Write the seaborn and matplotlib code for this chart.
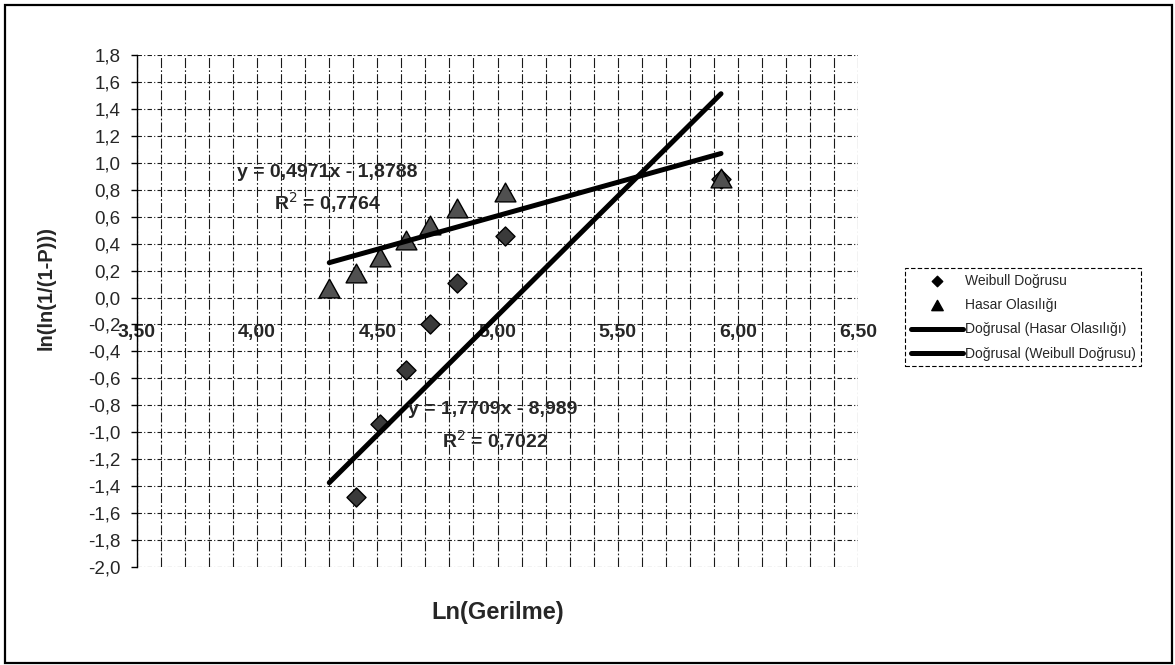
import numpy as np
import pandas as pd
import matplotlib
matplotlib.use("Agg")
import matplotlib.pyplot as plt
import seaborn as sns
from matplotlib.patches import Rectangle
from matplotlib.ticker import FuncFormatter, MultipleLocator, FixedLocator
from matplotlib.path import Path

# ---------------- data ----------------
hasar_x = [4.30, 4.41, 4.51, 4.62, 4.72, 4.83, 5.03, 5.93]
hasar_y = [0.07, 0.185, 0.30, 0.43, 0.54, 0.665, 0.78, 0.89]
# first Weibull point lies below the axis minimum (-2.0), hidden as in the reference
weibull_x = [4.30, 4.41, 4.51, 4.62, 4.72, 4.83, 5.03, 5.93]
weibull_y = [-2.28, -1.48, -0.94, -0.54, -0.20, 0.11, 0.46, 0.88]
hasar_slope, hasar_intercept, hasar_r2 = 0.4971, -1.8788, 0.7764
weibull_slope, weibull_intercept, weibull_r2 = 1.7709, -8.989, 0.7022
x_ticks = [3.5, 4.0, 4.5, 5.0, 5.5, 6.0, 6.5]
y_ticks = [-2.0, -1.8, -1.6, -1.4, -1.2, -1.0, -0.8, -0.6, -0.4, -0.2,
           0.0, 0.2, 0.4, 0.6, 0.8, 1.0, 1.2, 1.4, 1.6, 1.8]
series_names = ["Weibull Doğrusu", "Hasar Olasılığı",
                "Doğrusal (Hasar Olasılığı)", "Doğrusal (Weibull Doğrusu)"]

# ---------------- figure ----------------
sns.set_theme(style="white")
plt.rcParams["font.family"] = ["Liberation Sans", "DejaVu Sans"]

W, H = 1175, 665
fig = plt.figure(figsize=(W / 100, H / 100), dpi=100)
ax = fig.add_axes([137 / W, 1 - 567 / H, (858 - 137) / W, (567 - 55) / H])

# trend lines (Excel linear trendlines, drawn over the data x-range)
hx = np.array([min(hasar_x), max(hasar_x)])
wx = np.array([min(weibull_x), max(weibull_x)])
hasar_fit = pd.DataFrame({"x": hx, "y": hasar_slope * hx + hasar_intercept})
weibull_fit = pd.DataFrame({"x": wx, "y": weibull_slope * wx + weibull_intercept})

tri = Path([(-1, -0.9), (1, -0.9), (0, 0.9), (-1, -0.9)], closed=True)

sns.scatterplot(x=weibull_x, y=weibull_y, ax=ax, marker="D", s=94,
                color="#3a3a3a", edgecolor="black", linewidth=1.0,
                label=series_names[0], zorder=4)
sns.scatterplot(x=hasar_x, y=hasar_y, ax=ax, marker=tri, s=225,
                color="#505050", edgecolor="black", linewidth=1.0,
                label=series_names[1], zorder=5)
sns.lineplot(data=hasar_fit, x="x", y="y", ax=ax, color="black", lw=3.6,
             label=series_names[2], zorder=6)
sns.lineplot(data=weibull_fit, x="x", y="y", ax=ax, color="black", lw=3.6,
             label=series_names[3], zorder=6)

ax.set_xlim(3.5, 6.5)
ax.set_ylim(-2.0, 1.8)
ax.set_xlabel("")
ax.set_ylabel("")

ax.xaxis.set_major_locator(FixedLocator(x_ticks))
ax.xaxis.set_minor_locator(MultipleLocator(0.1))
ax.yaxis.set_major_locator(FixedLocator(y_ticks))
ax.xaxis.set_major_formatter(FuncFormatter(lambda v, p: f"{v:.2f}".replace(".", ",")))
ax.yaxis.set_major_formatter(FuncFormatter(
    lambda v, p: f"{round(v, 1) + 0.0:.1f}".replace(".", ",")))

ax.grid(True, which="both", axis="x", color="0.1", lw=0.8, ls=(0, (9, 2, 1.5, 2)))
ax.grid(True, which="major", axis="y", color="0.1", lw=0.8, ls=(0, (4, 2, 1, 2)))
ax.set_axisbelow(True)

for s in ["top", "right"]:
    ax.spines[s].set_visible(False)
ax.spines["left"].set_color("black")
ax.spines["left"].set_linewidth(1.0)
# horizontal axis crosses at y = 0 (drawn like the grid in the reference)
ax.spines["bottom"].set_position(("data", 0))
ax.spines["bottom"].set_color("none")

ax.tick_params(axis="x", which="both", length=0, pad=19, labelsize=14)
ax.tick_params(axis="y", which="major", length=4, width=1, color="black",
               direction="out", pad=8, labelsize=13.5, left=True)
for t in ax.get_xticklabels():
    t.set_fontweight("bold")

# trendline equations
fig.text(327 / W, 1 - 173 / H, "y = 0,4971x - 1,8788", ha="center", va="center",
         fontsize=14, fontweight="bold")
fig.text(328 / W, 1 - 203 / H, f"R$^2$ = {hasar_r2:.4f}".replace(".", ","),
         ha="center", va="center", fontsize=14, fontweight="bold")
fig.text(493 / W, 1 - 410 / H, "y = 1,7709x - 8,989", ha="center", va="center",
         fontsize=14, fontweight="bold")
fig.text(495 / W, 1 - 441 / H, f"R$^2$ = {weibull_r2:.4f}".replace(".", ","),
         ha="center", va="center", fontsize=14, fontweight="bold")

# axis titles
fig.text(46 / W, 1 - 288 / H, "ln(ln(1/(1-P)))", rotation=90, ha="center",
         va="center", fontsize=14.5, fontweight="bold")
fig.text(498 / W, 1 - 612 / H, "Ln(Gerilme)", ha="center", va="center",
         fontsize=17, fontweight="bold")

# legend
handles, labels = ax.get_legend_handles_labels()
order = [labels.index(n) for n in series_names]
leg = ax.legend([handles[i] for i in order], [labels[i] for i in order],
                loc="upper left", bbox_to_anchor=(905 / W, 1 - 268 / H),
                bbox_transform=fig.transFigure, fontsize=10, frameon=True,
                fancybox=False, edgecolor="black", framealpha=1,
                handlelength=3.8, handletextpad=0.1, markerscale=0.55,
                labelspacing=0.75, borderpad=0.4, borderaxespad=0)
leg.get_frame().set_linestyle((0, (4, 2)))
leg.get_frame().set_linewidth(0.8)
for h in leg.legend_handles[:2]:
    h.set_facecolor("black")

# outer chart frame
fig.patches.append(Rectangle((5 / W, 2 / H), (1172 - 5) / W, (660 - 2) / H,
                             transform=fig.transFigure, fill=False,
                             edgecolor="black", lw=1.6))

fig.savefig("out.png", dpi=100)
